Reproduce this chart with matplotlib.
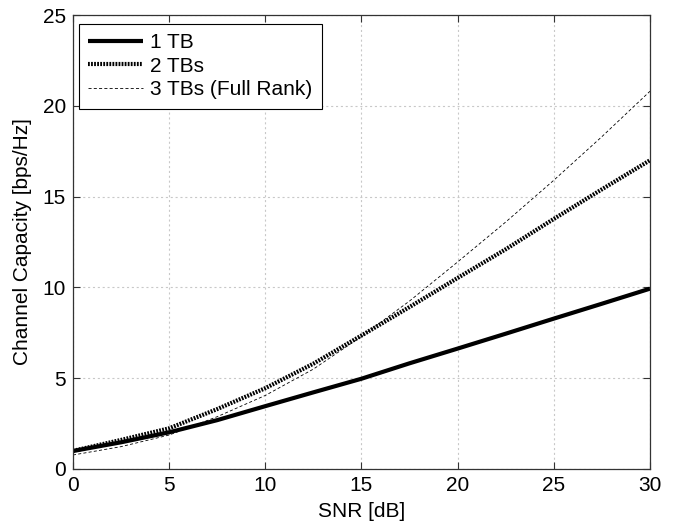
import numpy as np
import matplotlib
matplotlib.use('Agg')
import matplotlib.pyplot as plt

plt.rcParams['font.family'] = ['Liberation Sans', 'DejaVu Sans']
plt.rcParams['lines.scale_dashes'] = False

# values
snr_db = [0, 2.5, 5, 7.5, 10, 12.5, 15, 17.5, 20, 22.5, 25, 27.5, 30]
cap_1tb = [0.99, 1.47, 2.02, 2.69, 3.46, 4.22, 4.97, 5.82, 6.63, 7.45, 8.28, 9.1, 9.93]
cap_2tb = [1.0, 1.6, 2.24, 3.3, 4.45, 5.8, 7.35, 8.92, 10.52, 12.1, 13.77, 15.4, 17.0]
cap_3tb = [0.77, 1.23, 1.87, 2.88, 4.05, 5.5, 7.3, 9.25, 11.4, 13.6, 15.9, 18.3, 20.8]
labels = ['1 TB', '2 TBs', '3 TBs (Full Rank)']

xticks = [0, 5, 10, 15, 20, 25, 30]
yticks = [0, 5, 10, 15, 20, 25]

fs = 15

fig = plt.figure(figsize=(6.74, 5.25), dpi=100)
ax = fig.add_axes([0.1083, 0.1067, 0.856, 0.8647])

ax.plot(snr_db, cap_1tb, color='black', lw=3, solid_capstyle='butt', label=labels[0])
ax.plot(snr_db, cap_2tb, color='black', lw=3, dashes=(1.3, 0.9), dash_capstyle='butt',
        label=labels[1])
ax.plot(snr_db, cap_3tb, color='black', lw=0.6, dashes=(2.2, 1.6), label=labels[2])

ax.set_xlim(0, 30)
ax.set_ylim(0, 25)
ax.set_xticks(xticks)
ax.set_yticks(yticks)
ax.tick_params(direction='in', top=True, right=True, labelsize=fs, length=5,
               width=0.8, colors='#333333', labelcolor='black', pad=5)
ax.grid(True, color='#c8c8c8', linestyle=(0, (1.5, 2.0)), linewidth=0.8)
ax.set_axisbelow(True)
for s in ax.spines.values():
    s.set_linewidth(0.9)
    s.set_color('#333333')

ax.set_xlabel('SNR [dB]', fontsize=fs, labelpad=5)
ax.set_ylabel('Channel Capacity [bps/Hz]', fontsize=fs, labelpad=8)

leg = ax.legend(loc='upper left', bbox_to_anchor=(0.0105, 0.981), fontsize=fs,
                handlelength=2.6, handletextpad=0.35, labelspacing=0.22,
                borderpad=0.45, borderaxespad=0.0, fancybox=False, framealpha=1)
leg.get_frame().set_edgecolor('black')
leg.get_frame().set_linewidth(0.8)

fig.savefig('out.png', dpi=100)
